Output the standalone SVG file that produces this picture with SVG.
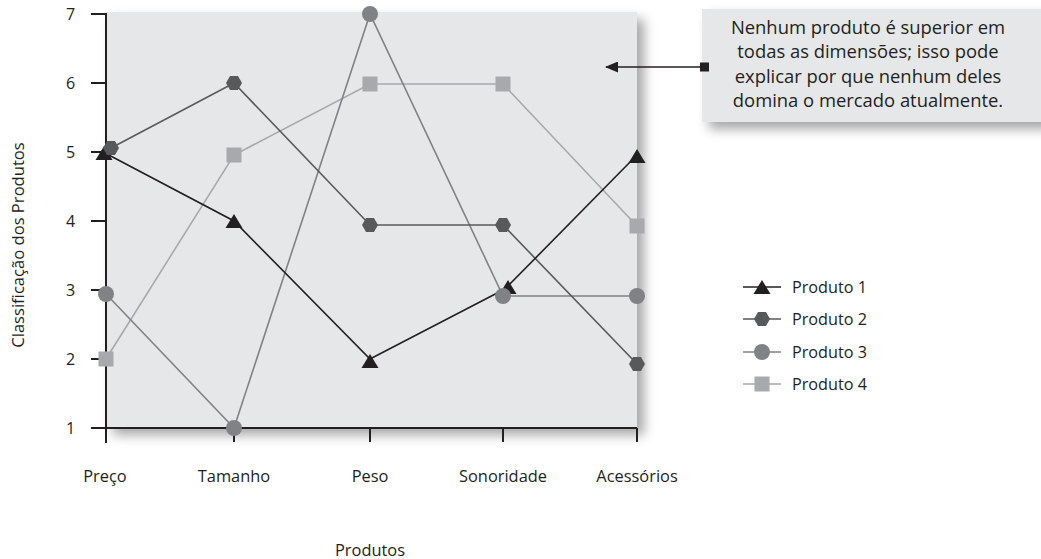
<svg xmlns="http://www.w3.org/2000/svg" width="1041" height="559" viewBox="0 0 1041 559">
  <style>
    text { font-family: "Open Sans", "Noto Sans", "DejaVu Sans", sans-serif; fill: #231f20; }
    .tick { font-size: 16px; }
    .ylab { font-size: 16.6px; text-anchor: middle; }
    .cat { font-size: 16.4px; text-anchor: middle; }
    .leg { font-size: 16.2px; }
    .note { font-size: 18.4px; text-anchor: middle; }
    .axis { stroke: #231f20; stroke-width: 2; fill: none; }
    .s1 { stroke: #231f20; stroke-width: 1.6; fill: none; }
    .s2 { stroke: #58595b; stroke-width: 1.6; fill: none; }
    .s3 { stroke: #808285; stroke-width: 1.6; fill: none; }
    .s4 { stroke: #a7a9ac; stroke-width: 1.6; fill: none; }
  </style>
  <defs>
    <filter id="shadow" x="-10%" y="-10%" width="130%" height="130%">
      <feDropShadow dx="7" dy="7" stdDeviation="6" flood-color="#000" flood-opacity="0.35"/>
    </filter>
    <path id="tri" d="M0,-7 L8.5,7 L-8.5,7 Z" fill="#231f20"/>
    <path id="hex" d="M-8,0 L-4,-7 L4,-7 L8,0 L4,7 L-4,7 Z" fill="#58595b"/>
    <circle id="dot" r="8" fill="#808285"/>
    <rect id="sq" x="-7.5" y="-7.5" width="15" height="15" fill="#a7a9ac"/>
    <marker id="arrowhead" markerWidth="13" markerHeight="11" refX="12" refY="5.5" orient="auto" markerUnits="userSpaceOnUse">
      <path d="M0,0 L13,5.5 L0,11 Z" fill="#231f20"/>
    </marker>
  </defs>

  <rect width="1041" height="559" fill="#ffffff"/>

  <!-- plot background -->
  <rect id="plot-area" x="106" y="12" width="531" height="416" fill="#e6e7e8" filter="url(#shadow)"/>

  <!-- axes and ticks -->
  <g id="axes">
    <path class="axis" d="M106,13 V443 M91,428 H637"/>
    <path class="axis" d="M91,14 H106 M91,83 H106 M91,152 H106 M91,221 H106 M91,290 H106 M91,359 H106"/>
    <path class="axis" d="M234,428 V442 M370,428 V442 M503,428 V442 M637,428 V442" stroke-width="2.5"/>
  </g>

  <g id="y-labels">
    <text class="tick" x="66" y="20">7</text>
    <text class="tick" x="66" y="89">6</text>
    <text class="tick" x="66" y="158">5</text>
    <text class="tick" x="66" y="227">4</text>
    <text class="tick" x="66" y="296">3</text>
    <text class="tick" x="66" y="365">2</text>
    <text class="tick" x="66" y="434">1</text>
    <text class="ylab" transform="translate(24,245) rotate(-90)">Classificação dos Produtos</text>
  </g>

  <g id="x-labels">
    <text class="cat" x="105" y="482">Preço</text>
    <text class="cat" x="234" y="482">Tamanho</text>
    <text class="cat" x="370" y="482">Peso</text>
    <text class="cat" x="503" y="482">Sonoridade</text>
    <text class="cat" x="637" y="482">Acessórios</text>
    <text class="cat" x="370" y="556">Produtos</text>
  </g>

  <!-- callout -->
  <g id="note">
    <rect x="702" y="9" width="345" height="113" fill="#e6e7e8" filter="url(#shadow)"/>
    <text class="note" x="868" y="34">Nenhum produto é superior em</text>
    <text class="note" x="868" y="58">todas as dimensões; isso pode</text>
    <text class="note" x="868" y="83">explicar por que nenhum deles</text>
    <text class="note" x="868" y="107">domina o mercado atualmente.</text>
  </g>

  <!-- series lines -->
  <g id="connectors">
    <polyline class="s4" points="106,359 234,155 370,84 503,84 637,226"/>
    <polyline class="s3" points="106,294 234,428 370,14 503,296 637,296"/>
    <polyline class="s2" points="111,148 234,83 370,225 503,225 637,364"/>
    <polyline class="s1" points="105,153 234,221 370,359 503,290"/>
    <polyline class="s1" points="507,287 637,155"/>
    <line class="s1" x1="705" y1="67" x2="606" y2="67" marker-end="url(#arrowhead)"/>
    <rect x="700" y="62.5" width="9" height="9" fill="#231f20"/>
  </g>

  <!-- series markers -->
  <g id="produto-4">
    <use href="#sq" x="106" y="359"/>
    <use href="#sq" x="234" y="155"/>
    <use href="#sq" x="370" y="84"/>
    <use href="#sq" x="503" y="84"/>
    <use href="#sq" x="637" y="226"/>
  </g>
  <g id="produto-3">
    <use href="#dot" x="106" y="294"/>
    <use href="#dot" x="234" y="428"/>
    <use href="#dot" x="370" y="14"/>
    <use href="#dot" x="637" y="296"/>
  </g>
  <g id="produto-2">
    <use href="#hex" x="234" y="83"/>
    <use href="#hex" x="370" y="225"/>
    <use href="#hex" x="503" y="225"/>
    <use href="#hex" x="637" y="364"/>
  </g>
  <g id="produto-1">
    <use href="#tri" x="104" y="153"/>
    <use href="#tri" x="234" y="221"/>
    <use href="#tri" x="370" y="361"/>
    <use href="#tri" x="508" y="287"/>
    <use href="#tri" x="637" y="156"/>
  </g>
  <use href="#hex" x="111" y="148"/>
  <use href="#dot" x="503" y="296"/>

  <!-- legend -->
  <g id="legend">
    <line class="s1" x1="743" y1="287" x2="781" y2="287"/>
    <use href="#tri" x="762" y="287"/>
    <text class="leg" x="792" y="293">Produto 1</text>
    <line class="s2" x1="743" y1="319" x2="781" y2="319"/>
    <use href="#hex" x="762" y="319"/>
    <text class="leg" x="792" y="325">Produto 2</text>
    <line class="s3" x1="743" y1="352" x2="781" y2="352"/>
    <use href="#dot" x="762" y="352"/>
    <text class="leg" x="792" y="358">Produto 3</text>
    <line class="s4" x1="743" y1="384" x2="781" y2="384"/>
    <use href="#sq" x="762" y="384"/>
    <text class="leg" x="792" y="390">Produto 4</text>
  </g>
</svg>
